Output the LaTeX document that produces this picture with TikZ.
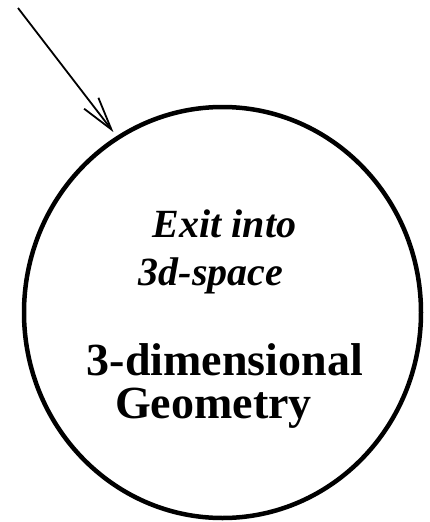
\documentclass[tikz,border=0pt]{standalone}
\usepackage{fontspec}
\setmainfont{Liberation Serif}
\usetikzlibrary{arrows.meta,shapes.geometric}

\begin{document}
\begin{tikzpicture}[x=1pt,y=-1pt,
	bubble/.style={ ellipse, draw, line width=4.5pt, inner sep=0pt, minimum width=397pt, minimum height=411pt },
	exittext/.style={ anchor=base, inner sep=0pt, font=\fontsize{40}{48}\selectfont\bfseries\itshape },
	geotext/.style={ anchor=base, inner sep=0pt, font=\fontsize{46}{50}\selectfont\bfseries }
]
\useasboundingbox (0,0) rectangle (430,522);

\node at (222.5,312.5) (geo) [bubble] {};
\coordinate (src) at (18,8);
\draw[line width=1.8pt, -{Straight Barb[length=33pt,width=18pt]}, shorten >=5pt] (src) -- (geo.121);

\node at (224.5,237) (exit1) [exittext] {Exit into};
\node at (211,285) (exit2) [exittext] {3d-space};
\node at (225,375) (dim1) [geotext] {3-dimensional};
\node at (213.5,418) (dim2) [geotext] {Geometry};

\end{tikzpicture}
\end{document}
